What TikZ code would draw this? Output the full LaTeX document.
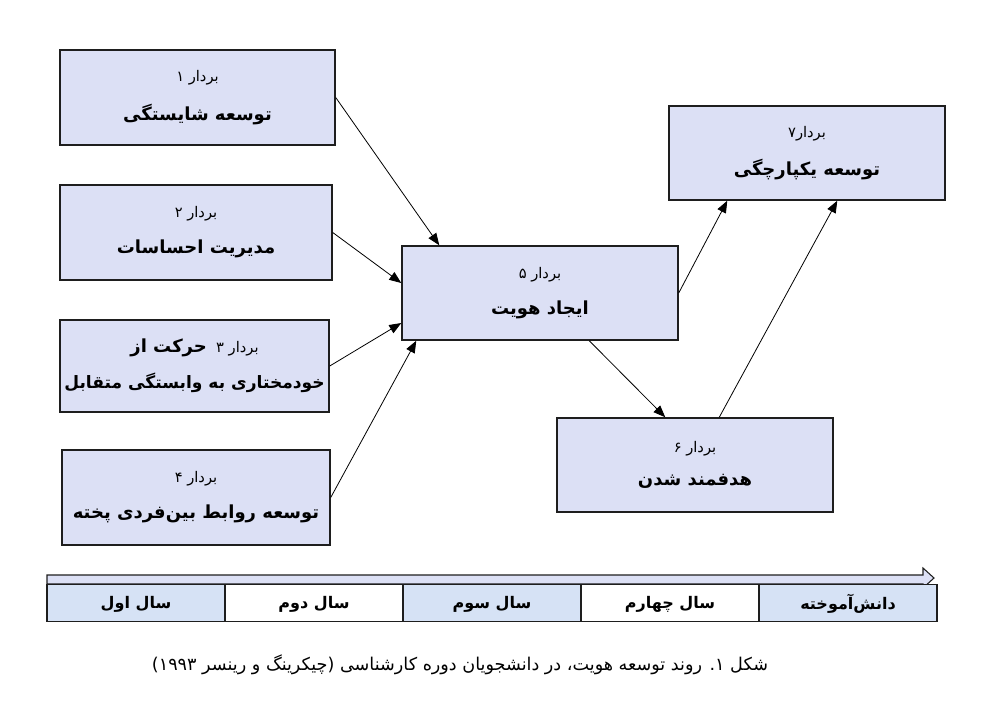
\documentclass[tikz,border=0pt]{standalone}
\usepackage{fontspec}
\setmainfont{DejaVu Sans}
\newfontfamily\fafont[Script=Arabic]{DejaVu Sans}
\TeXXeTstate=1
\usetikzlibrary{arrows.meta,calc}
\definecolor{vecfill}{RGB}{220,224,245}
\definecolor{yearblue}{RGB}{214,226,245}
\newcommand{\vecsmall}{\fontsize{11}{13}\selectfont}
\newcommand{\vecbig}{\fontsize{13.5}{16}\selectfont\bfseries}
\tikzset{every picture/.style={line width=0.75pt}}
\tikzset{
	vecbox/.style={draw={rgb, 255:red, 30; green, 30; blue, 30 }, line width=1.1pt, fill=vecfill, minimum width=206.25pt, minimum height=71pt, inner sep=0pt, align=center, font=\fafont},
	yearcell/.style={draw={rgb, 255:red, 30; green, 30; blue, 30 }, line width=0.8pt, minimum width=133.5pt, minimum height=27.75pt, inner sep=0pt, text depth=1pt, font=\fafont\fontsize{12}{14}\selectfont\bfseries},
	vecarrow/.style={-{Triangle[length=9pt,width=7pt]}, line width=0.6pt}}

\begin{document}
\begin{tikzpicture}[x=0.75pt,y=0.75pt,yscale=-1,xscale=1]
	\useasboundingbox (0,0) rectangle (1001,726);
	
	%Shape: Rectangle [id:vec1] 
	\node [vecbox] (v1) at (197.5,97.5) {{\vecsmall\beginR بردار ۱\endR}\\[13pt]{\vecbig\beginR توسعه شایستگی\endR}};
	%Shape: Rectangle [id:vec2] 
	\node [vecbox, minimum width=204pt] (v2) at (196,232.5) {{\vecsmall\beginR بردار ۲\endR}\\[13pt]{\vecbig\beginR مدیریت احساسات\endR}};
	%Shape: Rectangle [id:vec3] 
	\node [vecbox, minimum width=201.75pt, minimum height=69pt] (v3) at (194.5,366) {{\vecsmall\beginR بردار ۳\ \ {\vecbig حرکت از}\endR}\\[11pt]{\fontsize{12.8}{15}\selectfont\bfseries\beginR خودمختاری به وابستگی متقابل\endR}};
	%Shape: Rectangle [id:vec4] 
	\node [vecbox, minimum width=201pt] (v4) at (196,497.5) {{\vecsmall\beginR بردار ۴\endR}\\[13pt]{\vecbig\beginR توسعه روابط بین‌فردی پخته\endR}};
	%Shape: Rectangle [id:vec5] 
	\node [vecbox, minimum width=207pt, minimum height=70.5pt] (v5) at (540,293) {{\vecsmall\beginR بردار ۵\endR}\\[13pt]{\vecbig\beginR ایجاد هویت\endR}};
	%Shape: Rectangle [id:vec6] 
	\node [vecbox, minimum width=207pt, minimum height=70.5pt] (v6) at (695,465) {{\vecsmall\beginR بردار ۶\endR}\\[13pt]{\vecbig\beginR هدفمند شدن\endR}};
	%Shape: Rectangle [id:vec7] 
	\node [vecbox, minimum width=207pt, minimum height=70.5pt] (v7) at (807,153) {{\vecsmall\beginR بردار۷\endR}\\[13pt]{\vecbig\beginR توسعه یکپارچگی\endR}};
	
	%Straight Lines [id:arr1] 
	\draw [vecarrow] (v1.east) -- ($(v5.north west)+(38,0)$) ;
	%Straight Lines [id:arr2] 
	\draw [vecarrow] (v2.east) -- ($(v5.west)+(0,-10)$) ;
	%Straight Lines [id:arr3] 
	\draw [vecarrow] (v3.east) -- ($(v5.west)+(0,30)$) ;
	%Straight Lines [id:arr4] 
	\draw [vecarrow] (v4.east) -- ($(v5.south west)+(15,0)$) ;
	%Straight Lines [id:arr5] 
	\draw [vecarrow] ($(v5.south west)+(188,0)$) -- ($(v6.north west)+(109,0)$) ;
	%Straight Lines [id:arr6] 
	\draw [vecarrow] (v5.east) -- ($(v7.south west)+(59,0)$) ;
	%Straight Lines [id:arr7] 
	\draw [vecarrow] ($(v6.north west)+(163,0)$) -- ($(v7.south west)+(169,0)$) ;
	
	%Shape: Arrow [id:timeline] 
	\draw [draw={rgb, 255:red, 30; green, 30; blue, 30 }, fill=vecfill, line width=0.8pt] (47,575) -- (923,575) -- (923,568) -- (934,578) -- (923,588) -- (923,584) -- (47,584) -- cycle ;
	
	%Shape: Table [id:years] 
	\node [yearcell, fill=yearblue] (y1) at (136,603) {\beginR سال اول\endR};
	\node [yearcell, fill=white] (y2) at (314,603) {\beginR سال دوم\endR};
	\node [yearcell, fill=yearblue] (y3) at (492,603) {\beginR سال سوم\endR};
	\node [yearcell, fill=white] (y4) at (670,603) {\beginR سال چهارم\endR};
	\node [yearcell, fill=yearblue] (y5) at (848,603) {\beginR دانش‌آموخته\endR};
	
	% Text Node
	\node [font=\fafont\fontsize{13.2}{15}\selectfont, inner sep=0.75pt] (caption) at (460,665) {\beginR شکل ۱. روند توسعه هویت، در دانشجویان دوره کارشناسی (چیکرینگ و رینسر \beginL۱۹۹۳\endL)\endR};
	
\end{tikzpicture}
\end{document}
